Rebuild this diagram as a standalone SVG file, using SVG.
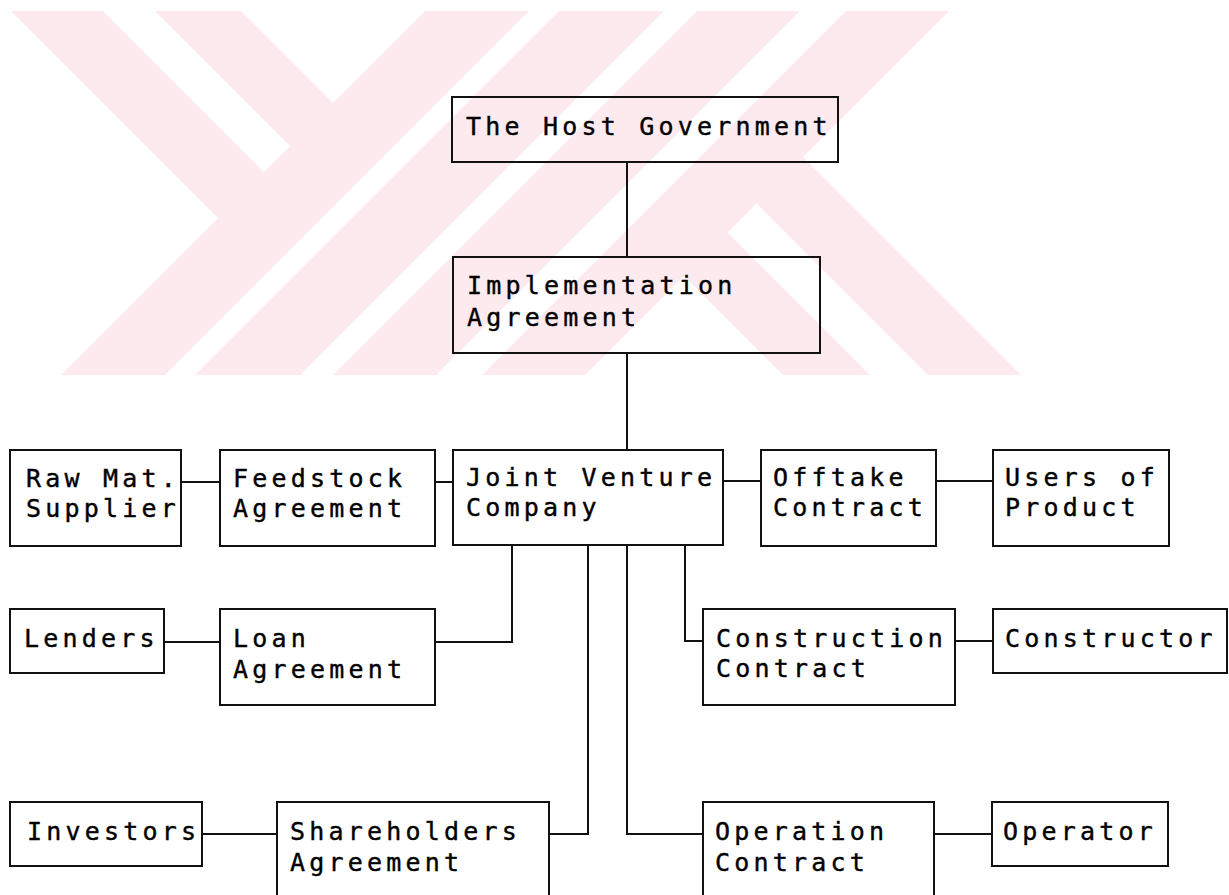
<svg xmlns="http://www.w3.org/2000/svg" width="1229" height="895" viewBox="0 0 1229 895">
<style>
  .wm { fill: #fdeaee; stroke: none; }
  .box { fill: none; stroke: #111; stroke-width: 2; }
  .conn { fill: none; stroke: #111; stroke-width: 2; }
  text { font-family: "DejaVu Sans Mono", "Liberation Mono", monospace; font-size: 25px; letter-spacing: 4.2px; fill: #000; stroke: #000; stroke-width: 0.4px; }
</style>
<defs>
  <clipPath id="wmclip"><rect x="11" y="11" width="1100" height="364"/></clipPath>
</defs>
<rect width="1229" height="895" fill="#ffffff"/>
<g id="watermark" clip-path="url(#wmclip)">
  <polygon class="wm" points="11,11 103,11 264,172 218,218"/>
  <polygon class="wm" points="155,11 241,11 333,103 290,146"/>
  <polygon class="wm" points="425,11 529,11 165,375 61,375"/>
  <polygon class="wm" points="559,11 664,11 300,375 195,375"/>
  <polygon class="wm" points="697,11 800,11 436,375 333,375"/>
  <polygon class="wm" points="846,11 949,11 585,375 482,375"/>
  <polygon class="wm" points="684,276 727,232 870,375 783,375"/>
  <polygon class="wm" points="756,203 803,157 1021,375 928,375"/>
</g>
<g id="connectors">
  <line class="conn" x1="627" y1="162" x2="627" y2="257"/>
  <line class="conn" x1="627" y1="353" x2="627" y2="450"/>
  <line class="conn" x1="181" y1="482" x2="220" y2="482"/>
  <line class="conn" x1="435" y1="482" x2="453" y2="482"/>
  <line class="conn" x1="723" y1="481" x2="761" y2="481"/>
  <line class="conn" x1="936" y1="481" x2="993" y2="481"/>
  <line class="conn" x1="164" y1="642" x2="220" y2="642"/>
  <polyline class="conn" points="435,642 512,642 512,545"/>
  <polyline class="conn" points="685,545 685,641 703,641"/>
  <line class="conn" x1="955" y1="641" x2="993" y2="641"/>
  <polyline class="conn" points="549,834 588,834 588,545"/>
  <polyline class="conn" points="627,545 627,834 703,834"/>
  <line class="conn" x1="202" y1="834" x2="277" y2="834"/>
  <line class="conn" x1="934" y1="834" x2="992" y2="834"/>
</g>
<g id="host-government">
  <rect class="box" x="452" y="97" width="386" height="65"/>
  <text x="466" y="135">The Host Government</text>
</g>
<g id="implementation-agreement">
  <rect class="box" x="453" y="257" width="367" height="96"/>
  <text x="467" y="294">Implementation</text>
  <text x="467" y="326">Agreement</text>
</g>
<g id="raw-mat-supplier">
  <rect class="box" x="10" y="450" width="171" height="96"/>
  <text x="26" y="487">Raw Mat.</text>
  <text x="26" y="517">Supplier</text>
</g>
<g id="feedstock-agreement">
  <rect class="box" x="220" y="450" width="215" height="96"/>
  <text x="233" y="487">Feedstock</text>
  <text x="233" y="517">Agreement</text>
</g>
<g id="joint-venture-company">
  <rect class="box" x="453" y="450" width="270" height="95"/>
  <text x="466" y="486">Joint Venture</text>
  <text x="466" y="516">Company</text>
</g>
<g id="offtake-contract">
  <rect class="box" x="761" y="450" width="175" height="96"/>
  <text x="773" y="486">Offtake</text>
  <text x="773" y="516">Contract</text>
</g>
<g id="users-of-product">
  <rect class="box" x="993" y="450" width="176" height="96"/>
  <text x="1005" y="486">Users of</text>
  <text x="1005" y="516">Product</text>
</g>
<g id="lenders">
  <rect class="box" x="10" y="609" width="154" height="64"/>
  <text x="24" y="647">Lenders</text>
</g>
<g id="loan-agreement">
  <rect class="box" x="220" y="609" width="215" height="96"/>
  <text x="233" y="647">Loan</text>
  <text x="233" y="678">Agreement</text>
</g>
<g id="construction-contract">
  <rect class="box" x="703" y="609" width="252" height="96"/>
  <text x="716" y="647">Construction</text>
  <text x="716" y="677">Contract</text>
</g>
<g id="constructor">
  <rect class="box" x="993" y="609" width="234" height="64"/>
  <text x="1005" y="647">Constructor</text>
</g>
<g id="investors">
  <rect class="box" x="10" y="802" width="192" height="64"/>
  <text x="27" y="840">Investors</text>
</g>
<g id="shareholders-agreement">
  <rect class="box" x="277" y="802" width="272" height="110"/>
  <text x="290" y="840">Shareholders</text>
  <text x="290" y="871">Agreement</text>
</g>
<g id="operation-contract">
  <rect class="box" x="703" y="802" width="231" height="110"/>
  <text x="715" y="840">Operation</text>
  <text x="715" y="871">Contract</text>
</g>
<g id="operator">
  <rect class="box" x="992" y="802" width="176" height="64"/>
  <text x="1003" y="840">Operator</text>
</g>
</svg>
